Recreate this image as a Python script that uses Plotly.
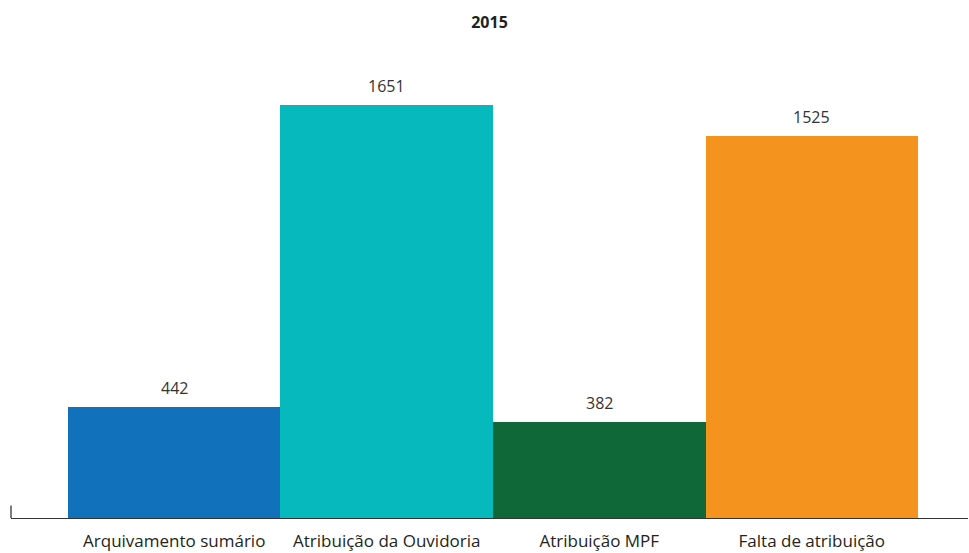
import plotly.graph_objects as go

categories = ["Arquivamento sumário", "Atribuição da Ouvidoria", "Atribuição MPF", "Falta de atribuição"]
values = [442, 1651, 382, 1525]
colors = ["#1171BA", "#05B9BD", "#0E6838", "#F5931F"]
title = "2015"

FONT = "Open Sans"

fig = go.Figure()
fig.add_trace(go.Bar(
    x=categories, y=values, marker=dict(color=colors, line=dict(width=0)),
    hoverinfo="x+y",
))

for c, v in zip(categories, values):
    fig.add_annotation(x=c, y=v, text=str(v), showarrow=False, yanchor="bottom",
                       yshift=6, font=dict(family=FONT, size=16, color="#333333"))

fig.add_shape(type="line", xref="paper", yref="y", x0=0, x1=0, y0=0, y1=50,
              line=dict(color="#333333", width=1.3))

fig.update_layout(
    width=969, height=553,
    margin=dict(l=11, r=1, t=60, b=35),
    paper_bgcolor="white", plot_bgcolor="white",
    bargap=0,
    showlegend=False,
    title=dict(text="<b>" + title + "</b>", x=0.5, xref="paper", xanchor="center",
               y=1 - 22 / 553, yanchor="middle",
               font=dict(family=FONT, size=16, color="#231F20")),
    font=dict(family=FONT, size=16, color="#231F20"),
)
fig.update_xaxes(range=[-0.768, 3.735], showline=True, linecolor="#333333", linewidth=1.3,
                 ticks="", showgrid=False, ticklabelstandoff=7, automargin=False,
                 tickfont=dict(family=FONT, size=17, color="#231F20"))
fig.update_yaxes(range=[0, 1830.5], visible=False, showgrid=False, zeroline=False,
                 automargin=False)

fig.write_html("out.html", config={"displayModeBar": False},
               post_script="document.body.style.margin='0';document.body.style.padding='0';document.body.style.overflow='hidden';")
